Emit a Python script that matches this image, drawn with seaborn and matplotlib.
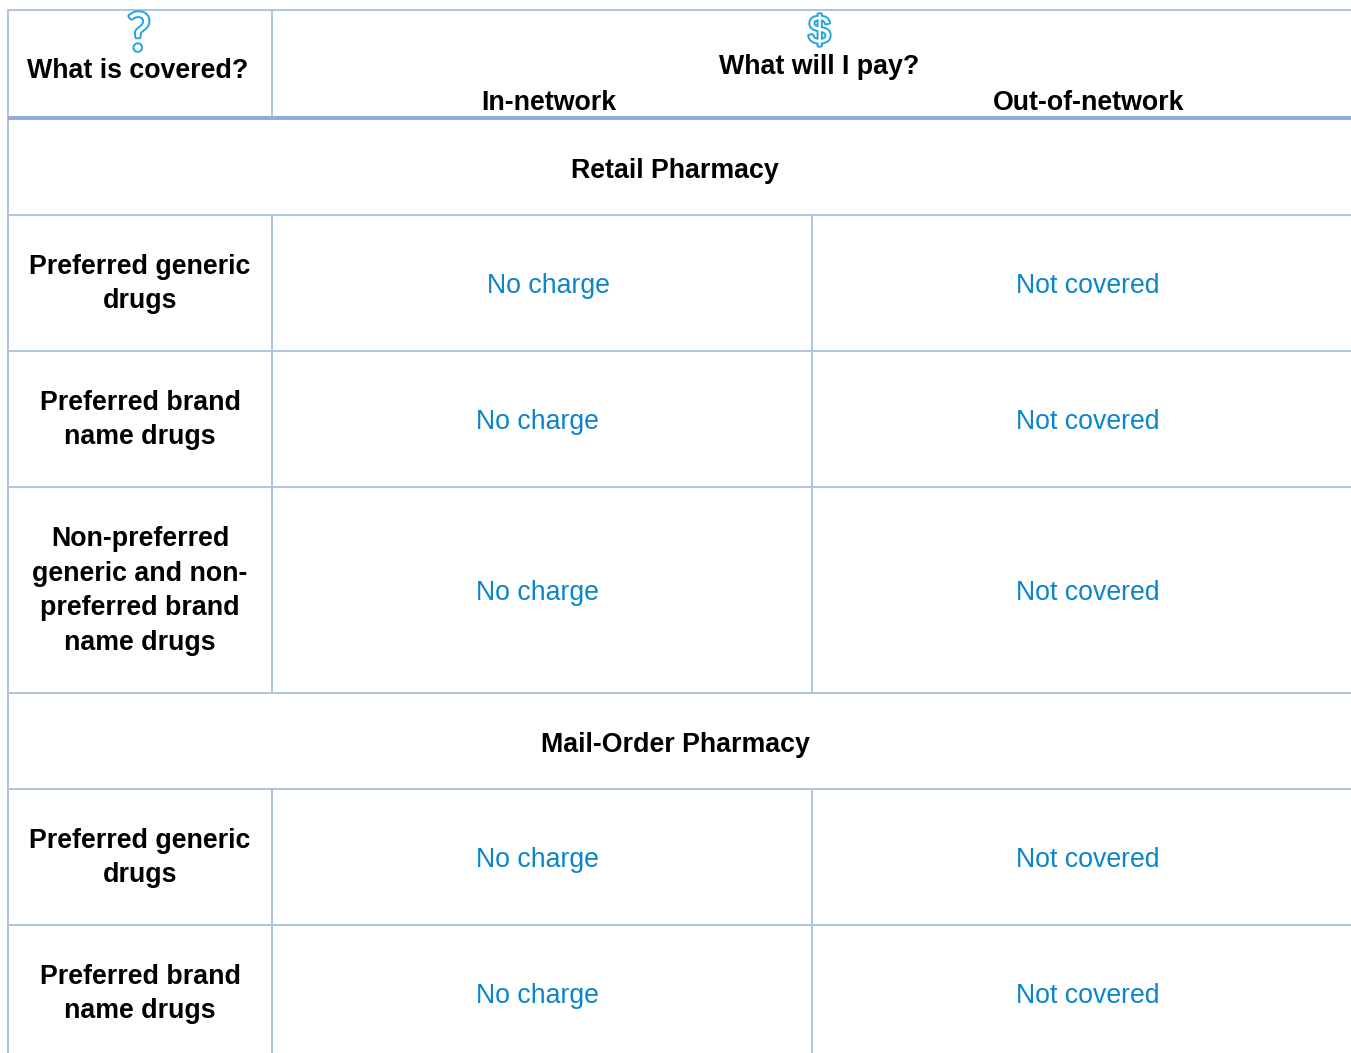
import matplotlib
matplotlib.use("Agg")
import matplotlib.pyplot as plt
import matplotlib.patheffects as pe
import pandas as pd
import seaborn as sns

header_left = "What is covered?"
header_mid = "What will I pay?"
header_in = "In-network"
header_out = "Out-of-network"
sections = ["Retail Pharmacy", "Mail-Order Pharmacy"]
drugs = [
    "Preferred generic\ndrugs",
    "Preferred brand\nname drugs",
    "Non-preferred\ngeneric and non-\npreferred brand\nname drugs",
    "Preferred generic\ndrugs",
    "Preferred brand\nname drugs",
]
in_network = ["No charge"] * 5
out_network = ["Not covered"] * 5

# layout (pixels)
row_y = [286, 422, 593.5, 860, 996]
label_y = [284, 420, 591, 858, 994]
in_x = [548, 537.5, 537.5, 537.5, 537.5]
segments = [
    (8, 10, 1351, 10), (8, 215, 1351, 215), (8, 351, 1351, 351),
    (8, 487, 1351, 487), (8, 693, 1351, 693), (8, 789, 1351, 789),
    (8, 925, 1351, 925),
    (8, 10, 8, 1053), (272, 10, 272, 118), (272, 215, 272, 693),
    (272, 789, 272, 1053), (812, 215, 812, 693), (812, 789, 812, 1053),
]
rows = []
for i, (x0, y0, x1, y1) in enumerate(segments):
    rows += [dict(seg=i, x=x0, y=y0), dict(seg=i, x=x1, y=y1)]
rules = pd.DataFrame(rows)
thick = pd.DataFrame(dict(seg=[0, 0], x=[8, 1351], y=[118, 118]))

sns.set_theme(style="white")
plt.rcParams["font.family"] = ["Liberation Sans", "DejaVu Sans"]

fig = plt.figure(figsize=(13.51, 10.53), dpi=100, facecolor="white")
ax = fig.add_axes([0, 0, 1, 1])
sns.lineplot(data=rules, x="x", y="y", units="seg", estimator=None, sort=False,
             color="#B0C3E6", linewidth=1.4, ax=ax, legend=False)
sns.lineplot(data=thick, x="x", y="y", units="seg", estimator=None, sort=False,
             color="#8FAADC", linewidth=2.8, ax=ax, legend=False, solid_capstyle="butt")
ax.set_xlim(0, 1351)
ax.set_ylim(1053, 0)
ax.axis("off")

BOLD = dict(fontsize=19.25, fontweight="bold", color="#000000", ha="center", va="center")
BLUE = "#0A85CC"
ICON = dict(color="white", ha="center", va="center", fontweight="normal",
            path_effects=[pe.withStroke(linewidth=2.8, foreground="#22A5DF")])

ax.text(139, 36, "?", fontsize=38, family="Lato", **ICON)
ax.text(819.5, 33, "$", fontsize=28, **ICON)
ax.text(138, 70.5, header_left, **BOLD)
ax.text(819, 66.5, header_mid, **BOLD)
ax.text(549, 102.5, header_in, **BOLD)
ax.text(1089, 102.5, header_out, **BOLD)
ax.text(675, 170.5, sections[0], **BOLD)
ax.text(675, 744.5, sections[1], **BOLD)

for lab, ly, y, xi, vi, vo in zip(drugs, label_y, row_y, in_x, in_network, out_network):
    ax.text(140, ly, lab, linespacing=1.44, **BOLD)
    ax.text(xi, y, vi, fontsize=19.2, color=BLUE, ha="center", va="center")
    ax.text(1088, y, vo, fontsize=19.2, color=BLUE, ha="center", va="center")

fig.savefig("out.png", dpi=100)
